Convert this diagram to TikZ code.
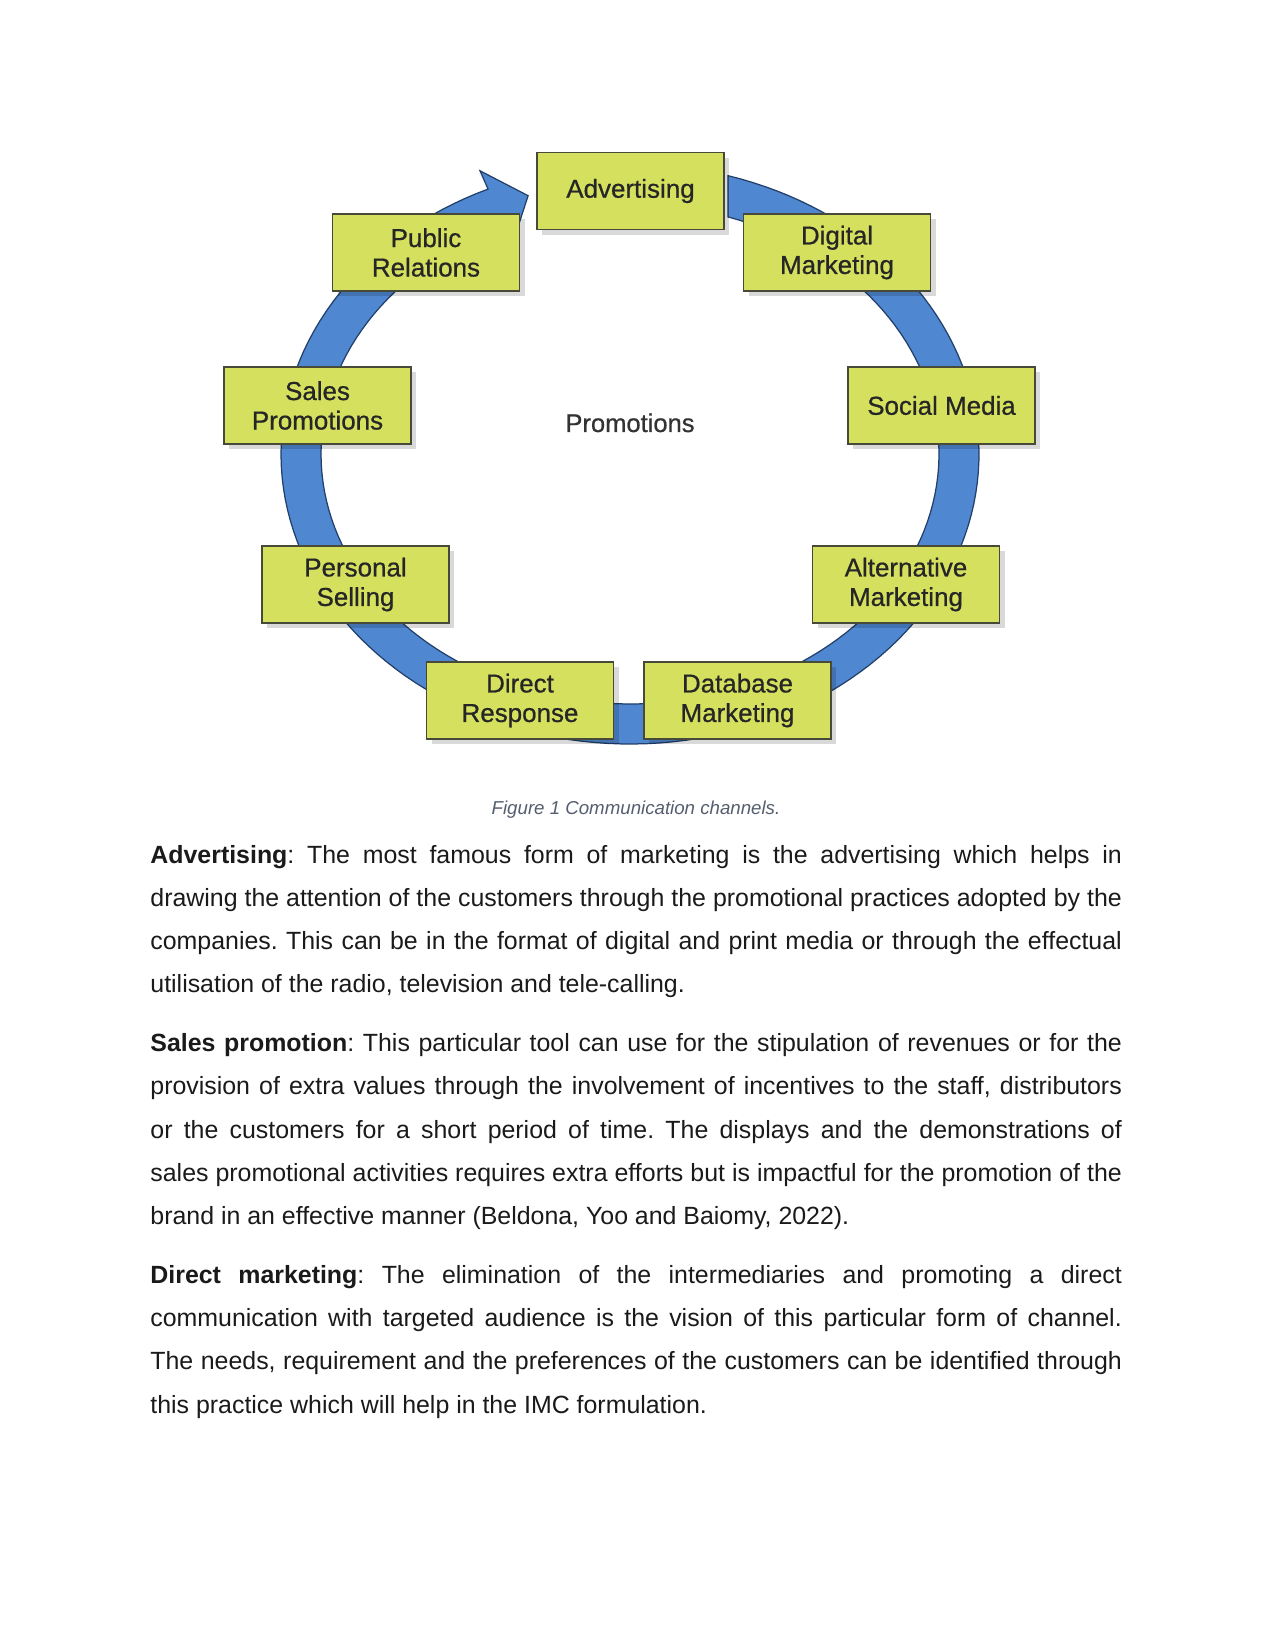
\documentclass[tikz,border=0pt]{standalone}
\usepackage{fontspec}
\setmainfont{Liberation Sans}
\newfontfamily\channelfont[FakeBold=0.7]{Liberation Sans}
\usepackage{xcolor}
\definecolor{ChannelGreen}{HTML}{D5E15E}
\definecolor{BoxEdge}{HTML}{474A38}
\definecolor{ArrowBlue}{HTML}{4F87D0}
\definecolor{ArrowNavy}{HTML}{22406B}
\definecolor{CaptionGray}{HTML}{555E6E}
\definecolor{BodyText}{HTML}{1A1A1A}
\usetikzlibrary{shadows}
\newcommand{\nohyph}{\frenchspacing\hyphenpenalty=10000 \exhyphenpenalty=10000 }

\begin{document}
\begin{tikzpicture}[x=0.48177pt, y=-0.48177pt,
    channel/.style={draw=BoxEdge, line width=0.6pt, fill=ChannelGreen,
      minimum width=90pt, minimum height=37pt, align=center, inner sep=2pt,
      font=\channelfont\fontsize{12.5}{14.2}\selectfont, text=black!85,
      drop shadow={shadow xshift=2.5pt, shadow yshift=-2.5pt, opacity=0.15, fill=black}},
    para/.style={anchor=base west, inner sep=0pt, text width=468pt, align=justify,
      font=\fontsize{12}{20.81}\selectfont, text=BodyText}]

    \useasboundingbox[fill=white] (0,0) rectangle (1275,1651);

    % Ring arrow behind the channels
    \draw[ArrowNavy, line width=0.6pt, fill=ArrowBlue]
      plot[domain=73.7:-246, samples=150] ({630+349*cos(\x)},{454-290*sin(\x)})
      -- (480,170.8) -- (528.1,195.7) -- (512.4,244)
      -- plot[domain=-246:71.5, samples=150] ({630+309*cos(\x)},{454-250*sin(\x)})
      -- cycle;

    % Channels
    \node[channel] (adv) at (630.5,191) {Advertising};
    \node[channel] (digital) at (837,252.5) {Digital\\Marketing};
    \node[channel] (social) at (941.5,405.5) {Social Media};
    \node[channel] (alt) at (906,584.5) {Alternative\\Marketing};
    \node[channel] (dbase) at (737.5,700.5) {Database\\Marketing};
    \node[channel] (direct) at (520,700.5) {Direct\\Response};
    \node[channel] (personal) at (355.5,584.5) {Personal\\Selling};
    \node[channel] (sales) at (317.5,405.5) {Sales\\Promotions};
    \node[channel] (public) at (426,252.5) {Public\\Relations};

    \node (promo) at (630,432) [anchor=base, font=\channelfont\fontsize{12.3}{14}\selectfont, text=black!80] {Promotions};

    % Caption
    \node (caption) at (636,814) [anchor=base, font=\fontsize{9}{11}\selectfont\itshape, text=CaptionGray] {Figure 1 Communication channels.};

    % Body text
    \node[para] (adtext) at (150,863) {\nohyph\textbf{Advertising}: The most famous form of marketing is the advertising which helps in\linebreak
      drawing the attention of the customers through the promotional practices adopted by the\linebreak
      companies. This can be in the format of digital and print media or through the effectual\linebreak
      utilisation of the radio, television and tele-calling.};
    \node[para] (salestext) at (150,1051.6) {\nohyph\textbf{Sales promotion}: This particular tool can use for the stipulation of revenues or for the\linebreak
      provision of extra values through the involvement of incentives to the staff, distributors\linebreak
      or the customers for a short period of time. The displays and the demonstrations of\linebreak
      sales promotional activities requires extra efforts but is impactful for the promotion of the\linebreak
      brand in an effective manner (Beldona, Yoo and Baiomy, 2022).};
    \node[para] (directtext) at (150,1283.4) {\nohyph\textbf{Direct marketing}: The elimination of the intermediaries and promoting a direct\linebreak
      communication with targeted audience is the vision of this particular form of channel.\linebreak
      The needs, requirement and the preferences of the customers can be identified through\linebreak
      this practice which will help in the IMC formulation.};
\end{tikzpicture}
\end{document}
